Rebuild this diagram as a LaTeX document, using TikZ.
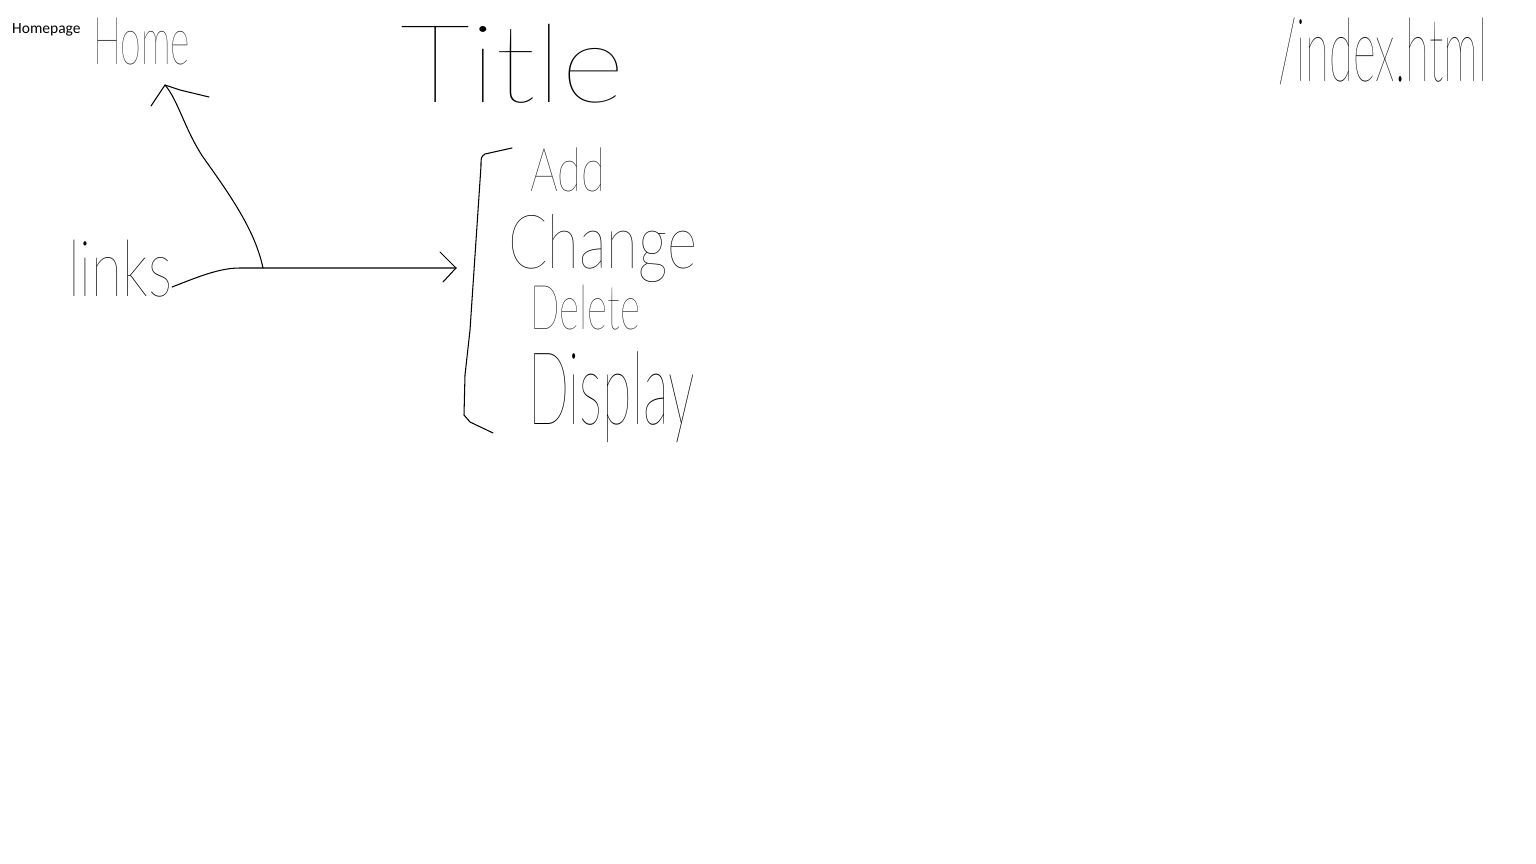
\documentclass[tikz,border=0pt]{standalone}
\usepackage{fontspec}
\usepackage{graphicx}
\setmainfont{Carlito}
\IfFontExistsTF{Lato Thin}{\newfontfamily\hand{Lato Thin}}{\IfFontExistsTF{Lato Hairline}{\newfontfamily\hand{Lato Hairline}}{\newfontfamily\hand{DejaVu Sans}}}
\newcommand\hwtext[3]{\resizebox*{#1pt}{#2pt}{\hand #3}}
\begin{document}
\begin{tikzpicture}[x=1pt,y=-1pt,
  pen/.style={line width=1.05pt, line cap=round, line join=round, black},
  hw/.style={anchor=north west, inner sep=0pt, outer sep=0pt}]
\useasboundingbox (0,0) rectangle (1536,864);
\fill[white] (0,0) rectangle (1536,864);

% typed label
\node[anchor=west, inner sep=0pt, font=\fontsize{15.5}{18}\selectfont] (homepage) at (12,29.5) {Homepage};

% hand-written labels
\node[hw] (home)    at (93,18)   {\hwtext{97}{47}{Home}};
\node[hw] (title)   at (400,24)  {\hwtext{225}{79}{Title}};
\node[hw] (index)   at (1278,18) {\hwtext{209}{67}{/index.html}};
\node[hw] (links)   at (68,240)  {\hwtext{104}{57}{links}};
\node[hw] (add)     at (530,148) {\hwtext{75}{44}{Add}};
\node[hw] (change)  at (508,215) {\hwtext{189}{68}{Change}};
\node[hw] (delete)  at (530,285) {\hwtext{110}{45}{Delete}};
\node[hw] (display) at (528,352) {\hwtext{167}{91}{Display}};

% connector points
\coordinate (jn) at (263,268);
\coordinate (hometip) at (165,85);
\coordinate (brtip) at (456,268);
\coordinate (brtop) at (512,148);
\coordinate (brbot) at (493,433);

% links -> bracket
\draw[pen] ([yshift=10pt]links.south east) .. controls (200,276) and (220,268) .. (240,268) -- (brtip);
\draw[pen] (brtip) -- ++(-16,-16);
\draw[pen] (brtip) -- ++(-13,14);

% branch -> Home
\draw[pen] (jn) .. controls (255,230) and (230,195) .. (203,157)
  .. controls (185,130) and (178,100) .. (hometip);
\draw[pen] (hometip) -- (151,106);
\draw[pen] (hometip) -- (180,90) -- (209,97);

% bracket
\draw[pen] (brtop) -- (485,154) .. controls (481,157) .. (481,166)
  -- (470,330) -- (465,375) -- (464,415) -- (470,422) -- (brbot);
\end{tikzpicture}
\end{document}
